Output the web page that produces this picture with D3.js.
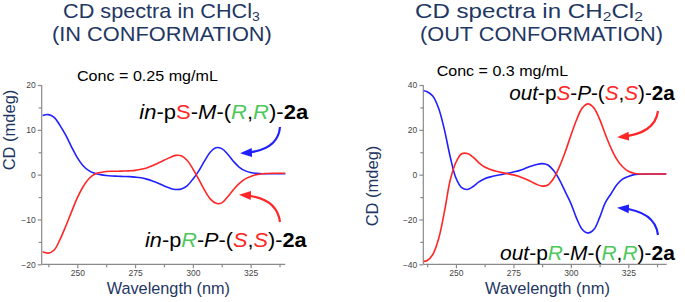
<!DOCTYPE html>
<html><head><meta charset="utf-8">
<script src="https://cdn.jsdelivr.net/npm/d3@7"></script>
<style>body{margin:0;background:#fff}svg{display:block}text{font-family:"Liberation Sans",Arial,sans-serif}</style>
</head><body>
<svg id="c" width="685" height="302"></svg>
<script>
// ---------- data ----------
const wlLeft = [235,237.5,240,242.5,245,247.5,250,252.5,255,257.5,260,262.5,265,267.5,270,272.5,275,277.5,280,282.5,285,287.5,290,292.5,295,297.5,300,302.5,305,307.5,310,312.5,315,317.5,320,322.5,325,327.5,330,335,340];
const inSM = [13.2,13.4,12.8,11.0,8.8,6.2,3.8,2.0,0.9,0.3,0.0,-0.2,-0.3,-0.35,-0.4,-0.45,-0.55,-0.7,-1.0,-1.4,-1.9,-2.5,-3.0,-3.3,-3.2,-2.5,-1.0,0.8,3.0,5.0,6.0,5.8,4.6,3.0,1.7,0.9,0.5,0.3,0.2,0.2,0.2];
const inRP = [-17.2,-17.5,-16.8,-14.5,-11.5,-8.3,-5.2,-2.7,-0.9,0.1,0.5,0.7,0.75,0.75,0.8,0.85,0.95,1.2,1.5,2.0,2.6,3.2,3.8,4.3,4.2,3.2,1.3,-1.0,-3.4,-5.4,-6.4,-6.3,-5.0,-3.4,-2.0,-1.0,-0.4,0.0,0.2,0.3,0.3];
const wlRight = [236,237.5,240,242.5,245,247.5,250,252.5,255,257.5,260,262.5,265,267.5,270,272.5,275,277.5,280,282.5,285,287.5,290,292.5,295,297.5,300,302.5,305,307.5,310,312.5,315,317.5,320,322.5,325,327.5,330,335,341.5];
const outRM = [37.4,37.0,35.0,29.5,20.0,8.0,-1.5,-5.8,-6.6,-5.3,-3.2,-1.8,-1.0,-0.4,0.1,0.6,1.2,1.8,2.7,3.7,4.5,4.9,4.3,1.8,-2.2,-7.5,-12.8,-19.5,-24.5,-26.1,-24.5,-19.2,-12.5,-8.5,-4.5,-2.0,-0.8,0.0,0.2,0.3,0.3];
const outSP = [-38.7,-38.3,-35.5,-28.5,-16.5,-2.5,5.5,9.3,9.4,7.8,5.3,3.4,2.3,1.5,0.9,0.4,-0.1,-0.8,-1.8,-3.0,-4.3,-5.1,-4.6,-1.7,3.5,10.0,17.5,24.5,29.8,31.6,29.8,24.8,18.0,11.8,6.8,3.5,1.5,0.6,0.3,0.3,0.3];
const xTicks = [250,275,300,325];
const xMinor = [237.5,262.5,287.5,312.5,337.5];
const yTicksLeft = [-20,-10,0,10,20];
const yMinorLeft = [-15,-5,5,15];
const yTicksRight = [-40,-20,0,20,40];
const yMinorRight = [-30,-10,10,30];

// ---------- style ----------
const BLUE = "#2020ff", RED = "#ff2626", GREEN = "#4cc85a", NAVY = "#1f3763";
const svg = d3.select("#c");
const defs = svg.append("defs");
[["ab",BLUE],["ar",RED]].forEach(([id,c])=>{
  defs.append("marker").attr("id",id).attr("markerUnits","userSpaceOnUse")
    .attr("viewBox","0 -5 12 10").attr("refX",9).attr("refY",0)
    .attr("markerWidth",12).attr("markerHeight",10).attr("orient","auto")
    .append("path").attr("d","M0,-4.5L12,0L0,4.5Z").attr("fill",c);
});

// text fitted to a measured width (the original figure is slightly stretched horizontally)
function fitText(x, y, width, size, parts, fill){
  const g = svg.append("g");
  const t = g.append("text").attr("font-size",size).attr("fill",fill||"#000");
  parts.forEach(p=>{
    const s = t.append("tspan").text(p.t);
    if(p.fill) s.attr("fill",p.fill);
    if(p.it) s.attr("font-style","italic");
    if(p.b) s.attr("font-weight","bold");
    if(p.size) s.attr("font-size",p.size);
    if(p.dy) s.attr("dy",p.dy);
  });
  const w = t.node().getComputedTextLength();
  g.attr("transform",`translate(${x},${y}) scale(${width/w},1)`);
  return g;
}

function panel(cfg){
  const x = d3.scaleLinear().domain(cfg.xd).range([cfg.x0,cfg.x1]);
  const y = d3.scaleLinear().domain(cfg.yd).range([cfg.yb,cfg.yt]);
  const axC = "#8a8a8a", tC = "#444";
  const gx = svg.append("g").attr("transform",`translate(0,${cfg.yb})`)
    .call(d3.axisBottom(x).tickValues(xTicks).tickSize(4).tickPadding(2).tickFormat(d3.format("d")));
  svg.append("g").attr("transform",`translate(0,${cfg.yb})`)
    .call(d3.axisBottom(x).tickValues(xMinor).tickSize(3).tickFormat(""))
    .call(g=>g.select(".domain").remove());
  const gy = svg.append("g").attr("transform",`translate(${cfg.x0},0)`)
    .call(d3.axisLeft(y).tickValues(cfg.yt_).tickSize(4).tickPadding(2).tickFormat(d3.format("d")));
  svg.append("g").attr("transform",`translate(${cfg.x0},0)`)
    .call(d3.axisLeft(y).tickValues(cfg.ym).tickSize(3).tickFormat(""))
    .call(g=>g.select(".domain").remove());
  svg.selectAll(".domain,.tick line").attr("stroke",axC).attr("stroke-width",1.2);
  [gx,gy].forEach(g=>g.selectAll(".tick text").attr("fill",tC).attr("font-size",8.5)
    .attr("font-family","'Liberation Sans',Arial,sans-serif"));
  gx.selectAll(".domain").attr("d",`M${cfg.x0},0H${cfg.x1}`);
  gy.selectAll(".domain").attr("d",`M0,${cfg.yb}V${cfg.yt}`);

  const line = d3.line().x(d=>x(d[0])).y(d=>y(d[1])).curve(d3.curveCatmullRom.alpha(0.5));
  cfg.series.forEach(s=>{
    svg.append("path").datum(cfg.wl.map((w,i)=>[w,s.v[i]])).attr("d",line)
      .attr("fill","none").attr("stroke",s.c).attr("stroke-width",1.6);
  });
  svg.append("text").attr("transform",`translate(${cfg.ylx},${cfg.yly}) rotate(-90)`)
    .attr("text-anchor","middle").attr("dy","0.35em").attr("font-size",16.5).attr("fill",NAVY).text("CD (mdeg)");
}

panel({xd:[234.6,340], yd:[-20,20], x0:41.7, x1:285.3, yb:264.3, yt:85,
  yt_:yTicksLeft, ym:yMinorLeft, wl:wlLeft, ylx:9, yly:130,
  series:[{v:inSM,c:BLUE},{v:inRP,c:RED}]});
panel({xd:[235.8,341.7], yd:[-40,40], x0:423.3, x1:666.7, yb:264.3, yt:85,
  yt_:yTicksRight, ym:yMinorRight, wl:wlRight, ylx:372, yly:186,
  series:[{v:outRM,c:BLUE},{v:outSP,c:RED}]});

// x axis titles
fitText(106.7,294,123.3,16.5,[{t:"Wavelength (nm)"}],NAVY);
fitText(485,294,125,16.5,[{t:"Wavelength (nm)"}],NAVY);

// titles
fitText(63,18,197,20,[{t:"CD spectra in CHCl"},{t:"3",size:13,dy:3}],NAVY);
fitText(52,41,220,20,[{t:"(IN CONFORMATION)"}],NAVY);
fitText(415,18,228,20,[{t:"CD spectra in CH"},{t:"2",size:13,dy:3},{t:"Cl",dy:-3},{t:"2",size:13,dy:3}],NAVY);
fitText(420,41,243,20,[{t:"(OUT CONFORMATION)"}],NAVY);

// concentrations
fitText(77,81,141,15,[{t:"Conc = 0.25 mg/mL"}]);
fitText(436.7,76,131.6,15,[{t:"Conc = 0.3 mg/mL"}]);

// compound labels
fitText(139.3,119,169,20.5,[{t:"in",it:1},{t:"-p"},{t:"S",fill:RED},{t:"-"},{t:"M",it:1},{t:"-("},{t:"R",it:1,fill:GREEN},{t:","},{t:"R",it:1,fill:GREEN},{t:")-"},{t:"2a",b:1}]);
fitText(145,247,161.7,20.5,[{t:"in",it:1},{t:"-p"},{t:"R",it:1,fill:GREEN},{t:"-"},{t:"P",it:1},{t:"-("},{t:"S",it:1,fill:RED},{t:","},{t:"S",it:1,fill:RED},{t:")-"},{t:"2a",b:1}]);
fitText(509.3,99.5,165.7,20.5,[{t:"out",it:1},{t:"-p"},{t:"S",it:1,fill:RED},{t:"-"},{t:"P",it:1},{t:"-("},{t:"S",it:1,fill:RED},{t:","},{t:"S",it:1,fill:RED},{t:")-"},{t:"2a",b:1}]);
fitText(500,260,175,20.5,[{t:"out",it:1},{t:"-p"},{t:"R",it:1,fill:GREEN},{t:"-"},{t:"M",it:1},{t:"-("},{t:"R",it:1,fill:GREEN},{t:","},{t:"R",it:1,fill:GREEN},{t:")-"},{t:"2a",b:1}]);

// arrows
const arrows = [
  {d:"M280,127 Q278,151 243,153", c:BLUE, m:"ab"},
  {d:"M280,222 Q277,197 242,195", c:RED, m:"ar"},
  {d:"M658,111 Q655,134 620,137", c:RED, m:"ar"},
  {d:"M658,235 Q655,211 620,208", c:BLUE, m:"ab"}
];
arrows.forEach(a=>svg.append("path").attr("d",a.d).attr("fill","none").attr("stroke",a.c)
  .attr("stroke-width",2.2).attr("marker-end",`url(#${a.m})`));
</script>
</body></html>
